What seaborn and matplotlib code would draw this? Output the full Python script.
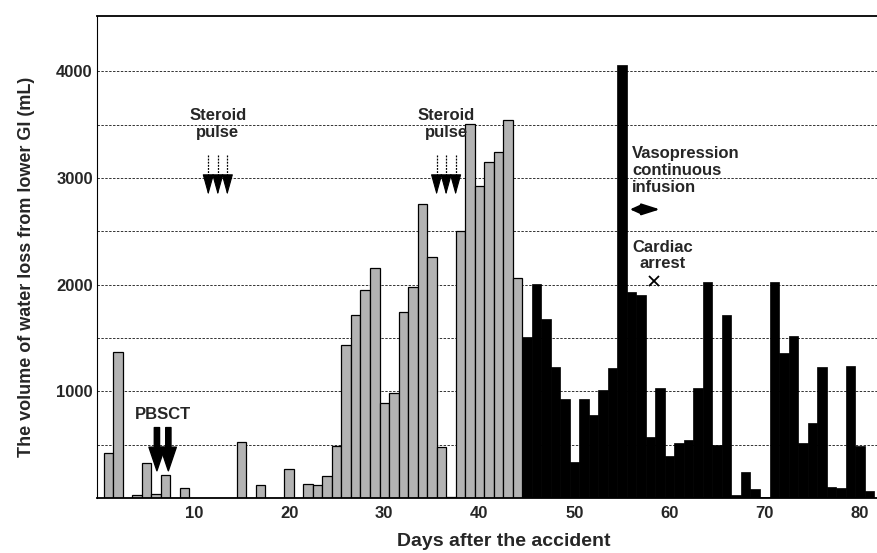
"""
Water loss from the lower GI tract after the accident.

Daily volume as bars, grey up to day 44 and black after,
with the treatment events written over the bars.
"""

import matplotlib
matplotlib.use("Agg")
import matplotlib.pyplot as plt
import pandas as pd
import seaborn as sns


DAYS: list[int] = list(range(1, 82))

# days 1-44
GREY_VOLUME: list[int] = [
    425, 1370, 0, 30, 330, 40, 215, 0, 95, 0,
    0, 0, 0, 0, 525, 0, 120, 0, 0, 275,
    0, 128, 126, 205, 490, 1430, 1715, 1948, 2152, 892,
    986, 1740, 1975, 2755, 2260, 480, 10, 2505, 3505, 2922,
    3150, 3245, 3545, 2062,
]

# days 45-81
BLACK_VOLUME: list[int] = [
    1510, 2002, 1675, 1230, 925, 340, 925, 780, 1012, 1215,
    4058, 1930, 1898, 575, 1035, 393, 512, 540, 1028, 2020,
    497, 1715, 30, 246, 82, 6, 2020, 1362, 1518, 512,
    705, 1230, 106, 91, 1240, 487, 68,
]

X_TICKS: list[int] = [10, 20, 30, 40, 50, 60, 70, 80]
Y_TICKS: list[int] = [1000, 2000, 3000, 4000]
Y_MINOR: list[int] = [500, 1500, 2500, 3500]

STEROID_FIRST: list[float] = [11.5, 12.5, 13.5]
STEROID_SECOND: list[float] = [35.5, 36.5, 37.5]
PBSCT_DAYS: list[float] = [6.1, 7.3]

FONT = ["Liberation Sans", "DejaVu Sans"]


def build_frame() -> pd.DataFrame:
    """Day, volume and phase in one table."""
    volume = GREY_VOLUME + BLACK_VOLUME
    phase = ["grey"] * len(GREY_VOLUME) + ["black"] * len(BLACK_VOLUME)
    return pd.DataFrame({"Day": DAYS, "Volume": volume, "Phase": phase})


def draw_bars(ax, frame: pd.DataFrame) -> None:
    sns.barplot(
        data=frame[frame["Phase"] == "grey"],
        x="Day", y="Volume",
        native_scale=True, width=1.0,
        color="#b3b3b3", saturation=1,
        edgecolor="black", linewidth=0.9,
        errorbar=None, ax=ax,
    )
    sns.barplot(
        data=frame[frame["Phase"] == "black"],
        x="Day", y="Volume",
        native_scale=True, width=1.0,
        color="black", saturation=1,
        edgecolor="black", linewidth=0.5,
        errorbar=None, ax=ax,
    )


def draw_steroid(ax, days: list[float]) -> None:
    for day in days:
        ax.plot([day, day], [3215, 3010], color="black",
                linestyle=(0, (1.5, 1.0)), linewidth=0.9)
        ax.annotate(
            "", xy=(day, 2840), xytext=(day, 3012),
            arrowprops=dict(arrowstyle="-|>,head_length=1.3,head_width=0.36",
                            color="black", shrinkA=0, shrinkB=0,
                            mutation_scale=10, linewidth=0.8),
        )
    ax.text(sum(days) / len(days), 3505, "Steroid\npulse", ha="center",
            va="center", fontsize=12, fontweight="bold", linespacing=1.15)


def draw_events(ax) -> None:
    draw_steroid(ax, STEROID_FIRST)
    draw_steroid(ax, STEROID_SECOND)

    for day in PBSCT_DAYS:
        ax.annotate(
            "", xy=(day, 255), xytext=(day, 660),
            arrowprops=dict(
                arrowstyle="simple,head_length=1.7,head_width=1.15,tail_width=0.38",
                color="black", shrinkA=0, shrinkB=0, mutation_scale=10),
        )
    ax.text(6.77, 778, "PBSCT", ha="center", va="center",
            fontsize=12, fontweight="bold")

    # vasopression continuous infusion
    ax.annotate("", xy=(58.98, 2705), xytext=(57.0, 2705),
                arrowprops=dict(arrowstyle="-|>,head_length=1.1,head_width=0.35",
                                color="black", shrinkA=0, shrinkB=0,
                                mutation_scale=10, linewidth=1.6))
    ax.annotate("", xy=(55.83, 2705), xytext=(57.0, 2705),
                arrowprops=dict(arrowstyle="-|>,head_length=0.55,head_width=0.25",
                                color="black", shrinkA=0, shrinkB=0,
                                mutation_scale=10, linewidth=1.6))
    ax.text(56.07, 3067, "Vasopression\ncontinuous\ninfusion", ha="left",
            va="center", fontsize=12, fontweight="bold", linespacing=1.15)

    ax.text(59.3, 2271, "Cardiac\narrest", ha="center", va="center",
            fontsize=12, fontweight="bold", linespacing=1.1)
    ax.plot([58.35], [2037], marker="x", color="black",
            markersize=7, markeredgewidth=1.3)


def style_axes(ax) -> None:
    ax.set_xlim(-0.2, 81.8)
    ax.set_ylim(0, 4520)
    ax.set_xticks(X_TICKS)
    ax.set_xticklabels([str(t) for t in X_TICKS])
    ax.set_yticks(Y_TICKS)
    ax.set_yticks(Y_MINOR, minor=True)
    ax.grid(axis="y", which="both", color="#333333",
            linestyle=(0, (2.5, 1.5)), linewidth=0.7)
    ax.set_axisbelow(True)
    ax.tick_params(axis="both", which="both", length=0,
                   labelsize=12)
    ax.tick_params(axis="x", pad=6)
    ax.tick_params(axis="y", pad=3)
    for label in ax.get_xticklabels() + ax.get_yticklabels():
        label.set_fontweight("bold")

    ax.spines["right"].set_visible(False)
    ax.spines["left"].set_linewidth(0.8)
    ax.spines["top"].set_linewidth(1.3)
    ax.spines["bottom"].set_linewidth(1.3)
    for side in ("left", "top", "bottom"):
        ax.spines[side].set_color("black")

    ax.set_xlabel("Days after the accident", fontsize=14, fontweight="bold")
    ax.set_ylabel("The volume of water loss from lower GI (mL)",
                  fontsize=13, fontweight="bold")
    ax.xaxis.set_label_coords(0.522, -0.072)
    ax.yaxis.set_label_coords(-0.079, 0.48)


def main() -> None:
    sns.set_theme(style="white")
    plt.rcParams["font.family"] = FONT

    frame = build_frame()

    fig = plt.figure(figsize=(8.77, 5.53), dpi=100)
    ax = fig.add_axes([97 / 877, 1 - 498 / 553, 780 / 877, 482.3 / 553])

    draw_bars(ax, frame)
    style_axes(ax)
    draw_events(ax)

    fig.savefig("out.png", dpi=100)


if __name__ == "__main__":
    main()
